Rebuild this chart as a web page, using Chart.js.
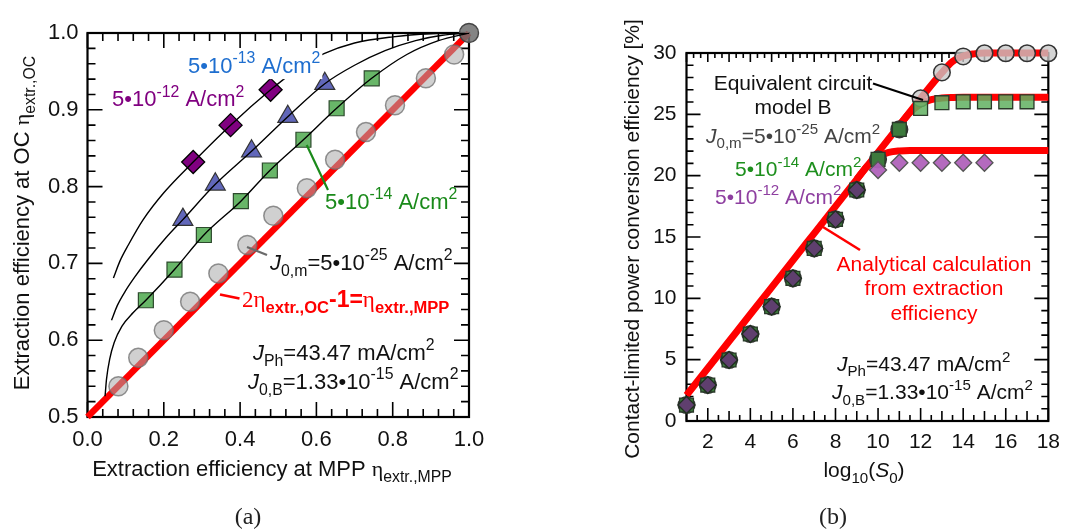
<!DOCTYPE html>
<html>
<head>
<meta charset="utf-8">
<script src="https://cdn.jsdelivr.net/npm/chart.js@4.4.1/dist/chart.umd.min.js"></script>
<style>
  html, body { margin: 0; padding: 0; background: #fff; }
  #wrap { position: relative; width: 1069px; height: 532px; overflow: hidden; }
  #wrap canvas { position: absolute; left: 0; top: 0; }
</style>
</head>
<body>
<div id="wrap">
  <canvas id="chartA" width="1069" height="532"></canvas>
  <canvas id="chartB" width="1069" height="532"></canvas>
</div>
<script>
// ---------- Panel (a): extraction efficiency at OC vs. at MPP ----------
const circMpp = [0.081, 0.133, 0.200, 0.269, 0.343, 0.419, 0.487, 0.575, 0.649, 0.730, 0.806, 0.887, 0.961];
const circOc  = [0.540, 0.577, 0.613, 0.650, 0.687, 0.724, 0.762, 0.798, 0.835, 0.871, 0.906, 0.941, 0.972];
const limitMpp = [1.0];
const limitOc  = [1.0];
const sqMpp  = [0.153, 0.228, 0.305, 0.402, 0.478, 0.566, 0.653, 0.745];
const sqOc   = [0.652, 0.692, 0.737, 0.781, 0.821, 0.861, 0.902, 0.941];
const triMpp = [0.250, 0.335, 0.430, 0.525, 0.622];
const triOc  = [0.757, 0.803, 0.846, 0.891, 0.934];
const diaMpp = [0.277, 0.375, 0.480];
const diaOc  = [0.832, 0.880, 0.926];

// thin model curves through each marker family
const curve12X = [0.068, 0.085, 0.107, 0.146, 0.200, 0.277, 0.375, 0.480, 0.550, 0.620, 0.700, 0.800, 0.900, 1.000];
const curve12Y = [0.681, 0.703, 0.724, 0.757, 0.792, 0.832, 0.880, 0.926, 0.953, 0.973, 0.987, 0.995, 0.999, 1.000];
const curve13X = [0.063, 0.078, 0.098, 0.125, 0.160, 0.205, 0.250, 0.335, 0.430, 0.525, 0.622, 0.700, 0.780, 0.860, 0.930, 1.000];
const curve13Y = [0.626, 0.645, 0.663, 0.683, 0.706, 0.733, 0.757, 0.803, 0.846, 0.891, 0.934, 0.958, 0.977, 0.990, 0.997, 1.000];
const curve14X = [0.046, 0.050, 0.058, 0.070, 0.090, 0.120, 0.153, 0.228, 0.305, 0.402, 0.478, 0.566, 0.653, 0.745, 0.837, 0.920, 1.000];
const curve14Y = [0.527, 0.550, 0.575, 0.597, 0.618, 0.636, 0.652, 0.692, 0.737, 0.781, 0.821, 0.861, 0.902, 0.941, 0.972, 0.990, 1.000];
// 2*eta_OC - 1 = eta_MPP
const limitLineX = [0.0, 1.0];
const limitLineY = [0.5, 1.0];

const aXTicks = [0.0, 0.2, 0.4, 0.6, 0.8, 1.0];
const aYTicks = [0.5, 0.6, 0.7, 0.8, 0.9, 1.0];

// ---------- Panel (b): efficiency vs. log10(S0) ----------
const logS0   = [1, 2, 3, 4, 5, 6, 7, 8, 9, 10, 11, 12, 13, 14, 15, 16, 17, 18];
const effJ25  = [1.30, 2.93, 4.97, 7.09, 9.32, 11.63, 14.07, 16.44, 18.83, 21.33, 23.77, 26.30, 28.42, 29.72, 29.98, 29.98, 29.98, 29.98];
const logS0J14 = [1, 2, 3, 4, 5, 6, 7, 8, 9, 10, 11, 12, 13, 14, 15, 16, 17];
const effJ14  = [1.30, 2.93, 4.97, 7.09, 9.32, 11.63, 14.07, 16.44, 18.83, 21.33, 23.77, 25.48, 25.95, 26.02, 26.02, 26.02, 26.02];
const logS0J12 = [1, 2, 3, 4, 5, 6, 7, 8, 9, 10, 11, 12, 13, 14, 15];
const effJ12  = [1.30, 2.93, 4.97, 7.09, 9.32, 11.63, 14.07, 16.44, 18.83, 20.46, 21.05, 21.05, 21.05, 21.05, 21.05];

// analytical curves from the extraction efficiency
const anaX25 = [1, 2, 3, 4, 5, 6, 7, 8, 9, 10, 11, 12, 13, 13.5, 14, 14.5, 15, 16, 17, 18];
const anaY25 = [2.1, 4.3, 6.5, 8.7, 10.9, 13.1, 15.3, 17.5, 19.7, 21.9, 24.1, 26.3, 28.4, 29.3, 29.75, 29.93, 30.0, 30.0, 30.0, 30.0];
const anaX14 = [11, 11.5, 12, 12.5, 13, 13.5, 14, 15, 16, 17, 18];
const anaY14 = [24.1, 25.15, 25.85, 26.2, 26.33, 26.38, 26.4, 26.4, 26.4, 26.4, 26.4];
const anaX12 = [9, 9.5, 10, 10.5, 11, 11.5, 12, 13, 14, 15, 16, 17, 18];
const anaY12 = [19.7, 20.8, 21.55, 21.9, 22.02, 22.05, 22.05, 22.05, 22.05, 22.05, 22.05, 22.05, 22.05];

const bXTicks = [2, 4, 6, 8, 10, 12, 14, 16, 18];
const bYTicks = [0, 5, 10, 15, 20, 25, 30];

// ---------- helpers ----------
const SANS = '"Liberation Sans", Arial, sans-serif';
const SERIF = '"Liberation Serif", "Times New Roman", serif';
const zip = (xs, ys) => xs.map((x, i) => ({ x, y: ys[i] }));

const T = (t, o = {}) => Object.assign({ t }, o);
const SUB = (t, o = {}) => Object.assign({ t, sub: true }, o);
const SUP = (t, o = {}) => Object.assign({ t, sup: true }, o);

// draw a run of text pieces with sub/superscripts
function drawRich(ctx, segs, x, y, o) {
  const size = o.size;
  const parts = segs.map(s => {
    const sz = (s.sub || s.sup) ? size * 0.72 : (s.size || size);
    const font = (s.italic ? 'italic ' : '') + (s.bold ? 'bold ' : '') + sz + 'px ' + (s.family || o.family || SANS);
    ctx.font = font;
    return { s, font, w: ctx.measureText(s.t).width, dy: s.sub ? size * 0.28 : s.sup ? -size * 0.42 : 0 };
  });
  const total = parts.reduce((a, p) => a + p.w, 0);
  let cx = o.align === 'center' ? x - total / 2 : o.align === 'right' ? x - total : x;
  if (o.bg) {
    ctx.fillStyle = o.bg;
    ctx.fillRect(cx - 2, y - size * 0.95, total + 4, size * 1.25);
  }
  ctx.textBaseline = 'alphabetic';
  ctx.textAlign = 'left';
  for (const p of parts) {
    ctx.font = p.font;
    ctx.fillStyle = p.s.color || o.color || '#000';
    ctx.fillText(p.s.t, cx, y + p.dy);
    cx += p.w;
  }
}
function drawRichRotated(ctx, segs, x, y, o) {
  ctx.save();
  ctx.translate(x, y);
  ctx.rotate(-Math.PI / 2);
  drawRich(ctx, segs, 0, 0, o);
  ctx.restore();
}
function line(ctx, x1, y1, x2, y2, color, w) {
  ctx.save();
  ctx.strokeStyle = color;
  ctx.lineWidth = w;
  ctx.lineCap = 'butt';
  ctx.beginPath();
  ctx.moveTo(x1, y1);
  ctx.lineTo(x2, y2);
  ctx.stroke();
  ctx.restore();
}

// frame with inward ticks on all four sides
function frameTicks(spec) {
  return {
    id: 'frameTicks',
    beforeDatasetsDraw(chart) {
      const { ctx, chartArea: a, scales } = chart;
      const xs = scales.x, ys = scales.y;
      ctx.save();
      ctx.strokeStyle = '#000';
      ctx.lineWidth = 1.6;
      const drawX = (vals, side) => {
        for (const t of vals) {
          const px = xs.getPixelForValue(t.v);
          ctx.beginPath();
          if (side === 'bottom') { ctx.moveTo(px, a.bottom); ctx.lineTo(px, a.bottom - t.len); }
          else { ctx.moveTo(px, a.top); ctx.lineTo(px, a.top + t.len); }
          ctx.stroke();
        }
      };
      const drawY = (vals) => {
        for (const t of vals) {
          const py = ys.getPixelForValue(t.v);
          ctx.beginPath();
          ctx.moveTo(a.left, py); ctx.lineTo(a.left + t.len, py);
          ctx.moveTo(a.right, py); ctx.lineTo(a.right - t.len, py);
          ctx.stroke();
        }
      };
      drawX(spec.xBottom(xs.min, xs.max), 'bottom');
      drawX(spec.xTop(xs.min, xs.max), 'top');
      drawY(spec.y(ys.min, ys.max));
      ctx.lineWidth = 2.2;
      ctx.strokeRect(a.left, a.top, a.right - a.left, a.bottom - a.top);
      ctx.restore();
    }
  };
}
function tickList(min, max, n, lenFn) {
  const out = [];
  for (let i = 0; i <= n; i++) {
    const v = min + (max - min) * i / n;
    out.push({ v, len: lenFn(i) });
  }
  return out;
}

const baseScale = (extra) => Object.assign({
  type: 'linear',
  grid: { display: false, drawTicks: false },
  border: { display: false }
}, extra);

// ---------- Chart (a) ----------
const annotA = {
  id: 'annotA',
  afterDraw(chart) {
    const ctx = chart.ctx;
    // leader lines
    line(ctx, 306.7, 145, 328, 190, '#1a8a1a', 2.2);
    line(ctx, 247, 247, 267, 255, '#6a6a6a', 2.2);
    line(ctx, 220, 294.5, 239.5, 298.5, '#ff0000', 2.6);

    const S = 22;
    drawRich(ctx, [T('5•10'), SUP('-13'), T(' A/cm'), SUP('2')], 188, 72.5, { size: S, color: '#1e6ecf', bg: '#fff' });
    drawRich(ctx, [T('5•10'), SUP('-12'), T(' A/cm'), SUP('2')], 112, 106, { size: S, color: '#800080' });
    drawRich(ctx, [T('5•10'), SUP('-14'), T(' A/cm'), SUP('2')], 325, 208.5, { size: S, color: '#1a8a1a' });
    drawRich(ctx, [T('J', { italic: true }), SUB('0,m'), T('=5•10'), SUP('-25'), T(' A/cm'), SUP('2')], 270, 269.5, { size: S, color: '#111' });
    drawRich(ctx, [T('2η', { family: SERIF }), SUB('extr.,OC', { bold: true }), T('-1', { bold: true }), T('=', { bold: true }), T('η', { family: SERIF }), SUB('extr.,MPP', { bold: true })], 242, 306.5, { size: 23, color: '#ff0000' });
    drawRich(ctx, [T('J', { italic: true }), SUB('Ph'), T('=43.47 mA/cm'), SUP('2')], 253, 359.5, { size: S, color: '#111' });
    drawRich(ctx, [T('J', { italic: true }), SUB('0,B'), T('=1.33•10'), SUP('-15'), T(' A/cm'), SUP('2')], 248, 388.5, { size: S, color: '#111' });

    // axis titles
    drawRichRotated(ctx, [T('Extraction efficiency at OC '), T('η', { family: SERIF }), SUB('extr.,OC')], 29, 223, { size: 22, color: '#111', align: 'center' });
    drawRich(ctx, [T('Extraction efficiency at MPP '), T('η', { family: SERIF }), SUB('extr.,MPP')], 272, 476, { size: 22, color: '#111', align: 'center' });
    drawRich(ctx, [T('(a)')], 248, 524, { size: 24, color: '#222', align: 'center', family: SERIF });
  }
};

new Chart(document.getElementById('chartA'), {
  type: 'scatter',
  data: {
    datasets: [
      { label: 'model 5e-12', data: zip(curve12X, curve12Y), showLine: true, pointRadius: 0, borderColor: '#000', borderWidth: 1.4, cubicInterpolationMode: 'monotone', order: 0 },
      { label: 'model 5e-13', data: zip(curve13X, curve13Y), showLine: true, pointRadius: 0, borderColor: '#000', borderWidth: 1.4, cubicInterpolationMode: 'monotone', order: 0 },
      { label: 'model 5e-14', data: zip(curve14X, curve14Y), showLine: true, pointRadius: 0, borderColor: '#000', borderWidth: 1.4, cubicInterpolationMode: 'monotone', order: 0 },
      { label: 'J0m 5e-12', data: zip(diaMpp, diaOc), pointStyle: 'rectRot', pointRadius: 11.5,
        pointBackgroundColor: '#800080', pointBorderColor: '#000', pointBorderWidth: 1.3, order: 1, clip: false },
      { label: 'J0m 5e-13', data: zip(triMpp, triOc), pointStyle: 'triangle', pointRadius: 11.5,
        pointBackgroundColor: 'rgba(84,90,180,0.92)', pointBorderColor: '#333', pointBorderWidth: 1.2, order: 2, clip: false },
      { label: 'J0m 5e-14', data: zip(sqMpp, sqOc), pointStyle: 'rect', pointRadius: 10.6,
        pointBackgroundColor: 'rgba(96,178,96,0.95)', pointBorderColor: '#2d4a2d', pointBorderWidth: 1.2, order: 3, clip: false },
      { label: 'limit', data: zip(limitMpp, limitOc), pointStyle: 'circle', pointRadius: 9.5,
        pointBackgroundColor: 'rgba(110,110,110,0.85)', pointBorderColor: '#444', pointBorderWidth: 1.4, order: 4, clip: false },
      { label: 'J0m 5e-25', data: zip(circMpp, circOc), pointStyle: 'circle', pointRadius: 9.5,
        pointBackgroundColor: 'rgba(170,170,170,0.55)', pointBorderColor: 'rgba(110,110,110,0.75)', pointBorderWidth: 1.5, order: 5, clip: false },
      { label: '2ηOC-1=ηMPP', data: zip(limitLineX, limitLineY), showLine: true, pointRadius: 0,
        borderColor: '#ff0000', borderWidth: 6.5, order: 6, clip: false }
    ]
  },
  options: {
    responsive: false,
    animation: false,
    events: [],
    layout: { padding: { left: 0, top: 33, right: 1069 - 469, bottom: 85 } },
    plugins: { legend: { display: false }, tooltip: { enabled: false } },
    scales: {
      x: baseScale({
        min: 0, max: 1,
        afterBuildTicks: s => { s.ticks = aXTicks.map(v => ({ value: v })); },
        ticks: { padding: 10, color: '#111', font: { family: SANS, size: 22 }, callback: v => v.toFixed(1), maxRotation: 0 },
        afterFit: s => { s.height = 30; }
      }),
      y: baseScale({
        min: 0.5, max: 1,
        afterBuildTicks: s => { s.ticks = aYTicks.map(v => ({ value: v })); },
        ticks: { padding: 9, color: '#111', font: { family: SANS, size: 22 }, callback: v => v.toFixed(1) },
        afterFit: s => { s.width = 87.5; }
      })
    }
  },
  plugins: [
    frameTicks({
      xBottom: (a, b) => tickList(a, b, 25, i => i % 5 === 0 ? 15 : 8),
      xTop: (a, b) => tickList(a, b, 25, i => i % 5 === 0 ? 15 : 8),
      y: (a, b) => tickList(a, b, 25, i => i % 5 === 0 ? 15 : 8)
    }),
    annotA
  ]
});

// ---------- Chart (b) ----------
// markers that sit on top of another family's marker are drawn darker
const near = (xs, ys, x, y) => xs.some((v, i) => v === x && Math.abs(ys[i] - y) < 0.3);
const annotB = {
  id: 'annotB',
  afterDraw(chart) {
    const ctx = chart.ctx;
    line(ctx, 873, 83.5, 923, 100, '#000', 2.2);
    line(ctx, 823, 227, 860, 250, '#ff0000', 2.6);

    const S = 21;
    drawRich(ctx, [T('Equivalent circuit')], 793, 89.5, { size: S, color: '#111', align: 'center' });
    drawRich(ctx, [T('model B')], 793, 114, { size: S, color: '#111', align: 'center' });
    drawRich(ctx, [T('J', { italic: true }), SUB('0,m'), T('=5•10'), SUP('-25'), T(' A/cm'), SUP('2')], 706, 142.5, { size: S, color: '#444' });
    drawRich(ctx, [T('5•10'), SUP('-14'), T(' A/cm'), SUP('2')], 735, 175.5, { size: S, color: '#1d8f1d' });
    drawRich(ctx, [T('5•10'), SUP('-12'), T(' A/cm'), SUP('2')], 715, 203.5, { size: S, color: '#8e3fa0' });
    drawRich(ctx, [T('Analytical calculation')], 934, 271, { size: S, color: '#ff0000', align: 'center' });
    drawRich(ctx, [T('from extraction')], 934, 295, { size: S, color: '#ff0000', align: 'center' });
    drawRich(ctx, [T('efficiency')], 934, 319.5, { size: S, color: '#ff0000', align: 'center' });
    drawRich(ctx, [T('J', { italic: true }), SUB('Ph'), T('=43.47 mA/cm'), SUP('2')], 837, 370.5, { size: S, color: '#111' });
    drawRich(ctx, [T('J', { italic: true }), SUB('0,B'), T('=1.33•10'), SUP('-15'), T(' A/cm'), SUP('2')], 832, 399, { size: S, color: '#111' });

    drawRichRotated(ctx, [T('Contact-limited power conversion efficiency [%]')], 639, 239, { size: 21, color: '#111', align: 'center' });
    drawRich(ctx, [T('log'), SUB('10'), T('('), T('S', { italic: true }), SUB('0'), T(')')], 864, 477, { size: 21, color: '#111', align: 'center' });
    drawRich(ctx, [T('(b)')], 833, 524, { size: 24, color: '#222', align: 'center', family: SERIF });
  }
};

new Chart(document.getElementById('chartB'), {
  type: 'scatter',
  data: {
    datasets: [
      { label: 'J0m 5e-12', data: zip(logS0J12, effJ12), pointStyle: 'rectRot', pointRadius: 8.5,
        pointBackgroundColor: c => near(logS0J14, effJ14, c.raw.x, c.raw.y) ? '#5f3f6e' : 'rgba(176,98,186,0.95)',
        pointBorderColor: c => near(logS0J14, effJ14, c.raw.x, c.raw.y) ? '#1f2f1f' : '#555',
        pointBorderWidth: 1.3, order: 1, clip: false },
      { label: 'J0m 5e-14', data: zip(logS0J14, effJ14), pointStyle: 'rect', pointRadius: 9.8,
        pointBackgroundColor: c => near(logS0, effJ25, c.raw.x, c.raw.y) ? '#3d7a3d' : 'rgba(96,176,96,0.85)',
        pointBorderColor: '#2a3a2a', pointBorderWidth: 1.3, order: 2, clip: false },
      { label: 'J0m 5e-25', data: zip(logS0, effJ25), pointStyle: 'circle', pointRadius: 8.3,
        pointBackgroundColor: c => near(logS0J14, effJ14, c.raw.x, c.raw.y) ? '#3d7a3d' : 'rgba(200,200,200,0.78)',
        pointBorderColor: '#333', pointBorderWidth: 1.5, order: 3, clip: false },
      { label: 'analytical 5e-25', data: zip(anaX25, anaY25), showLine: true, pointRadius: 0, borderColor: '#ff0000',
        borderWidth: 7, cubicInterpolationMode: 'monotone', order: 4, clip: false },
      { label: 'analytical 5e-14', data: zip(anaX14, anaY14), showLine: true, pointRadius: 0, borderColor: '#ff0000',
        borderWidth: 7, cubicInterpolationMode: 'monotone', order: 5, clip: false },
      { label: 'analytical 5e-12', data: zip(anaX12, anaY12), showLine: true, pointRadius: 0, borderColor: '#ff0000',
        borderWidth: 7, cubicInterpolationMode: 'monotone', order: 6, clip: false }
    ]
  },
  options: {
    responsive: false,
    animation: false,
    events: [],
    layout: { padding: { left: 686.5 - 60, top: 53, right: 13, bottom: 81 } },
    plugins: { legend: { display: false }, tooltip: { enabled: false } },
    scales: {
      x: baseScale({
        min: 1, max: 18,
        afterBuildTicks: s => { s.ticks = bXTicks.map(v => ({ value: v })); },
        ticks: { padding: 9, color: '#111', font: { family: SANS, size: 21 }, maxRotation: 0 },
        afterFit: s => { s.height = 30; }
      }),
      y: baseScale({
        min: 0, max: 30,
        afterBuildTicks: s => { s.ticks = bYTicks.map(v => ({ value: v })); },
        ticks: { padding: 10, color: '#111', font: { family: SANS, size: 21 } },
        afterFit: s => { s.width = 60; }
      })
    }
  },
  plugins: [
    frameTicks({
      xBottom: (a, b) => tickList(a, b, 34, i => ((i + 2) % 4 === 0) ? 13 : (i % 2 === 0 ? 10 : 6)),
      xTop: (a, b) => tickList(a, b, 51, i => i % 3 === 0 ? 9 : 5),
      y: (a, b) => tickList(a, b, 30, i => i % 5 === 0 ? 14 : 7)
    }),
    annotB
  ]
});
</script>
</body>
</html>
